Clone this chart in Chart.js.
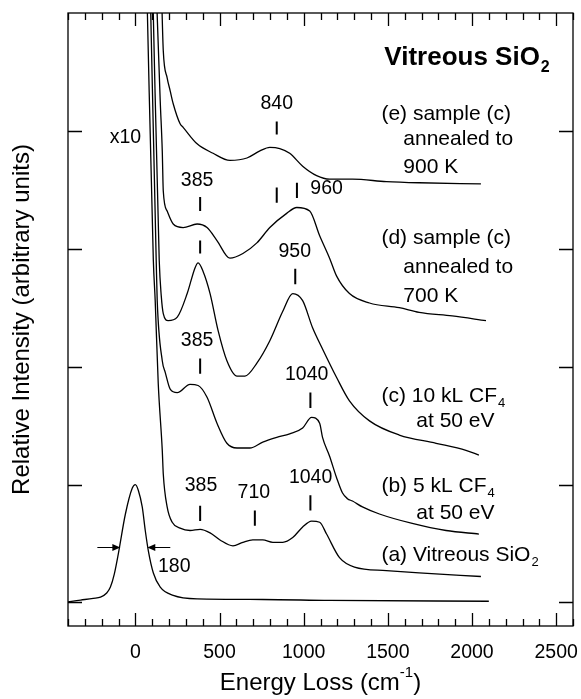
<!DOCTYPE html>
<html>
<head>
<meta charset="utf-8">
<script src="https://cdn.jsdelivr.net/npm/chart.js@4.4.0/dist/chart.umd.min.js"></script>
<style>
  html, body { margin: 0; padding: 0; background: #fff; }
</style>
</head>
<body>
<canvas id="eelsChart" width="581" height="699"></canvas>
<script>
// axis ticks
const xTickValues = [0, 500, 1000, 1500, 2000, 2500];
const yTickValues = [0, 1, 2, 3, 4];

// elastic peak (x1)
const elasticE = [-400, -325, -250, -207, -170, -148, -125, -100, -59, -18, 0, 18, 41, 59, 77, 107, 148, 225, 367, 757, 1154, 2100];
const elasticI = [0.005, 0.02, 0.035, 0.045, 0.08, 0.13, 0.24, 0.42, 0.75, 0.97, 1.0, 0.95, 0.81, 0.61, 0.44, 0.25, 0.13, 0.06, 0.03, 0.025, 0.017, 0.01];

// (a) vitreous SiO2, x10
const specAE = [70, 107, 118, 136, 160, 166, 189, 219, 266, 325, 385, 444, 503, 580, 639, 698, 757, 817, 876, 935, 994, 1047, 1095, 1136, 1213, 1302, 1491, 1686, 2053];
const specAI = [5.1, 2.90, 2.56, 1.86, 1.29, 1.09, 0.81, 0.68, 0.63, 0.61, 0.62, 0.59, 0.53, 0.48, 0.51, 0.53, 0.53, 0.51, 0.51, 0.55, 0.64, 0.69, 0.68, 0.58, 0.38, 0.30, 0.27, 0.25, 0.22];

// (b) 5 kL CF4 at 50 eV
const specBE = [90, 124, 130, 160, 178, 207, 249, 325, 373, 426, 485, 544, 604, 680, 757, 840, 917, 994, 1047, 1095, 1112, 1154, 1195, 1230, 1260, 1290, 1349, 1450, 1645, 1846, 2041];
const specBI = [5.1, 2.90, 2.56, 2.05, 1.95, 1.81, 1.78, 1.85, 1.84, 1.74, 1.52, 1.35, 1.31, 1.31, 1.36, 1.40, 1.43, 1.48, 1.57, 1.52, 1.40, 1.24, 1.06, 0.93, 0.88, 0.86, 0.81, 0.75, 0.67, 0.61, 0.58];

// (c) 10 kL CF4 at 50 eV
const specCE = [105, 142, 154, 166, 195, 249, 308, 355, 373, 402, 444, 491, 544, 604, 651, 722, 799, 876, 935, 994, 1053, 1112, 1195, 1272, 1391, 1568, 1787, 1964, 2041];
const specCI = [5.1, 2.90, 2.60, 2.45, 2.39, 2.42, 2.62, 2.84, 2.88, 2.81, 2.62, 2.31, 2.05, 1.92, 1.92, 2.03, 2.22, 2.47, 2.62, 2.56, 2.33, 2.15, 1.91, 1.71, 1.54, 1.42, 1.35, 1.29, 1.25];

// (d) sample (c) annealed to 700 K
const specDE = [127, 148, 160, 166, 189, 225, 284, 367, 426, 485, 562, 639, 722, 799, 899, 959, 1036, 1095, 1154, 1195, 1272, 1391, 1568, 1686, 1882, 2083];
const specDI = [5.1, 4.25, 3.83, 3.49, 3.32, 3.21, 3.18, 3.21, 3.18, 3.07, 2.92, 2.96, 3.05, 3.18, 3.30, 3.35, 3.32, 3.11, 2.92, 2.77, 2.62, 2.54, 2.50, 2.46, 2.43, 2.39];

// (e) sample (c) annealed to 900 K
const specEE = [157, 166, 189, 207, 225, 266, 284, 367, 462, 562, 663, 740, 799, 858, 917, 994, 1077, 1154, 1290, 1491, 1686, 2053];
const specEI = [5.1, 4.68, 4.45, 4.34, 4.23, 4.06, 4.03, 3.89, 3.81, 3.75, 3.77, 3.83, 3.86, 3.85, 3.81, 3.70, 3.62, 3.59, 3.59, 3.57, 3.56, 3.55];

// peak markers: energy, bottom, top
const peakMarks = [
  [840, 3.97, 4.08],
  [385, 3.32, 3.44], [840, 3.39, 3.52], [960, 3.43, 3.56],
  [385, 2.96, 3.07], [950, 2.70, 2.83],
  [385, 1.94, 2.07], [1040, 1.65, 1.78],
  [385, 0.69, 0.82], [710, 0.65, 0.78], [1040, 0.78, 0.91]
];
// peak labels: text, energy, intensity (centre)
const peakLabels = [
  ['840', 840, 4.23], ['385', 367, 3.58], ['960', 1136, 3.51],
  ['950', 947, 2.98], ['385', 367, 2.22], ['1040', 1018, 1.93],
  ['385', 390, 0.99], ['710', 704, 0.93], ['1040', 1041, 1.06],
  ['x10', -59, 3.94], ['180', 231, 0.305]
];
// FWHM of elastic peak
const fwhmEdges = [-89, 71];
const fwhmLevel = 0.466;

// spectrum labels: [text, subscript], energy, intensity (left edge)
const specLabels = [
  [['(e) sample (c)', ''], 1462, 4.14],
  [['annealed to', ''], 1592, 3.93],
  [['900 K', ''], 1592, 3.69],
  [['(d) sample (c)', ''], 1462, 3.09],
  [['annealed to', ''], 1592, 2.84],
  [['700 K', ''], 1592, 2.60],
  [['(c) 10 kL CF', '4'], 1462, 1.75],
  [['at 50 eV', ''], 1669, 1.54],
  [['(b) 5 kL CF', '4'], 1462, 0.99],
  [['at 50 eV', ''], 1669, 0.76],
  [['(a) Vitreous SiO', '2'], 1462, 0.40]
];

const FONT = "'Liberation Sans', Arial, Helvetica, sans-serif";

function textWithSub(ctx, text, sub, x, y, size, weight) {
  ctx.font = weight + ' ' + size + 'px ' + FONT;
  ctx.textAlign = 'left';
  ctx.textBaseline = 'middle';
  ctx.fillText(text, x, y);
  if (sub) {
    const w = ctx.measureText(text).width;
    ctx.font = weight + ' ' + Math.round(size * 0.62) + 'px ' + FONT;
    ctx.fillText(sub, x + w + 1, y + size * 0.36);
  }
}

const decorations = {
  id: 'decorations',
  afterDatasetsDraw(chart) {
    const { ctx, chartArea: a, scales: { x, y } } = chart;
    ctx.save();
    ctx.strokeStyle = '#000';
    ctx.fillStyle = '#000';
    ctx.lineWidth = 1.3;
    ctx.strokeRect(a.left, a.top, a.right - a.left, a.bottom - a.top);

    // inward ticks on bottom and top
    ctx.beginPath();
    for (let v = x.min; v <= x.max; v += 100) {
      const px = Math.round(x.getPixelForValue(v)) + 0.5;
      const len = v % 500 === 0 ? 13 : 7;
      ctx.moveTo(px, a.bottom); ctx.lineTo(px, a.bottom - len);
      ctx.moveTo(px, a.top); ctx.lineTo(px, a.top + len);
    }
    yTickValues.forEach(v => {
      const py = Math.round(y.getPixelForValue(v)) + 0.5;
      ctx.moveTo(a.left, py); ctx.lineTo(a.left + 14, py);
      ctx.moveTo(a.right, py); ctx.lineTo(a.right - 14, py);
    });
    ctx.stroke();

    // peak markers
    ctx.lineWidth = 2;
    ctx.beginPath();
    peakMarks.forEach(([e, lo, hi]) => {
      const px = x.getPixelForValue(e);
      ctx.moveTo(px, y.getPixelForValue(lo));
      ctx.lineTo(px, y.getPixelForValue(hi));
    });
    ctx.stroke();

    // FWHM arrows
    ctx.lineWidth = 1.2;
    const fy = y.getPixelForValue(fwhmLevel);
    const l = x.getPixelForValue(fwhmEdges[0]);
    const r = x.getPixelForValue(fwhmEdges[1]);
    ctx.beginPath();
    ctx.moveTo(l - 23, fy); ctx.lineTo(l - 6, fy);
    ctx.moveTo(r + 23, fy); ctx.lineTo(r + 6, fy);
    ctx.stroke();
    ctx.beginPath();
    ctx.moveTo(l, fy); ctx.lineTo(l - 8, fy - 3.5); ctx.lineTo(l - 8, fy + 3.5); ctx.closePath();
    ctx.moveTo(r, fy); ctx.lineTo(r + 8, fy - 3.5); ctx.lineTo(r + 8, fy + 3.5); ctx.closePath();
    ctx.fill();

    // peak labels
    ctx.font = '19.5px ' + FONT;
    ctx.textAlign = 'center';
    ctx.textBaseline = 'middle';
    peakLabels.forEach(([t, e, i]) => {
      ctx.fillText(t, x.getPixelForValue(e), y.getPixelForValue(i));
    });

    // spectrum labels
    specLabels.forEach(([[t, sub], e, i]) => {
      textWithSub(ctx, t, sub, x.getPixelForValue(e), y.getPixelForValue(i), 21, 'normal');
    });
    textWithSub(ctx, 'Vitreous SiO', '2', x.getPixelForValue(1479), y.getPixelForValue(4.62), 26, 'bold');

    // axis titles
    ctx.font = '24px ' + FONT;
    ctx.textAlign = 'center';
    ctx.textBaseline = 'middle';
    ctx.save();
    ctx.translate(22, (a.top + a.bottom) / 2);
    ctx.rotate(-Math.PI / 2);
    ctx.fillText('Relative Intensity (arbitrary units)', 0, 0);
    ctx.restore();

    const main = 'Energy Loss (cm';
    ctx.font = '24px ' + FONT;
    const w1 = ctx.measureText(main).width;
    ctx.font = '15px ' + FONT;
    const w2 = ctx.measureText('-1').width;
    ctx.font = '24px ' + FONT;
    const w3 = ctx.measureText(')').width;
    const cx = (a.left + a.right) / 2;
    const ty = 683;
    const sx = cx - (w1 + w2 + w3) / 2;
    ctx.textAlign = 'left';
    ctx.fillText(main, sx, ty);
    ctx.font = '15px ' + FONT;
    ctx.fillText('-1', sx + w1, ty - 10);
    ctx.font = '24px ' + FONT;
    ctx.fillText(')', sx + w1 + w2, ty);
    ctx.restore();
  }
};

const series = [
  [elasticE, elasticI], [specAE, specAI], [specBE, specBI],
  [specCE, specCI], [specDE, specDI], [specEE, specEI]
];

new Chart(document.getElementById('eelsChart'), {
  type: 'line',
  data: {
    datasets: series.map(([e, i]) => ({
      data: e.map((v, k) => ({ x: v, y: i[k] })),
      borderColor: '#000',
      borderWidth: 1.3,
      pointRadius: 0,
      fill: false,
      cubicInterpolationMode: 'monotone'
    }))
  },
  options: {
    responsive: false,
    animation: false,
    devicePixelRatio: 1,
    layout: { padding: { top: 13, right: 8, left: 0, bottom: 0 } },
    plugins: { legend: { display: false }, tooltip: { enabled: false } },
    scales: {
      x: {
        type: 'linear',
        min: -400,
        max: 2600,
        afterBuildTicks: s => { s.ticks = xTickValues.map(v => ({ value: v })); },
        // fixed height, and let the last label hang past the frame
        afterFit: s => { s.height = 73; s.paddingLeft = 0; s.paddingRight = 0; },
        grid: { display: false, drawTicks: false },
        border: { display: false },
        ticks: {
          font: { family: FONT, size: 19.5 },
          color: '#000',
          padding: 15,
          maxRotation: 0,
          autoSkip: false,
          callback: v => String(v)
        }
      },
      y: {
        type: 'linear',
        min: -0.2,
        max: 5,
        afterBuildTicks: s => { s.ticks = yTickValues.map(v => ({ value: v })); },
        afterFit: s => { s.width = 68; },
        grid: { display: false, drawTicks: false },
        border: { display: false },
        ticks: { display: false }
      }
    }
  },
  plugins: [decorations]
});
</script>
</body>
</html>
